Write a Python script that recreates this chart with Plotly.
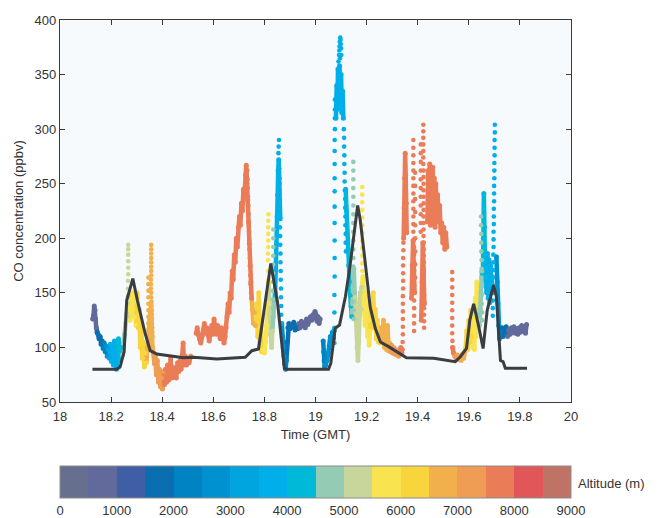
import plotly.graph_objects as go

# ---------------- colour scale (500 m altitude bins) ----------------
alt_bin_edges = [0, 500, 1000, 1500, 2000, 2500, 3000, 3500, 4000, 4500,
                 5000, 5500, 6000, 6500, 7000, 7500, 8000, 8500, 9000]
alt_bin_colors = ["#66708e", "#626a9c", "#3f5ea6", "#0a6eb0", "#0083c3", "#0091d1",
                  "#00a5e0", "#00afe9", "#00b9d9", "#94cbb4", "#c9d69b", "#f9e44f",
                  "#f8d43d", "#f2b04d", "#ef9d55", "#ea7c57", "#e05659", "#bf7364"]
colorbar_ticks = [0, 1000, 2000, 3000, 4000, 5000, 6000, 7000, 8000, 9000]
x_ticks = [18, 18.2, 18.4, 18.6, 18.8, 19, 19.2, 19.4, 19.6, 19.8, 20]
y_ticks = [50, 100, 150, 200, 250, 300, 350, 400]

# ---------------- observed CO along flight track: (time GMT, CO ppbv, altitude m) ----------------
track_leg1 = [
    (18.128, 126, 650), (18.131, 129, 700), (18.134, 138, 720), (18.137, 134, 760), (18.139, 126, 800),
    (18.142, 118, 850), (18.145, 114, 1600), (18.149, 112, 1650), (18.153, 108, 1700), (18.157, 110, 1750),
    (18.161, 103, 1800), (18.165, 106, 1900), (18.169, 99, 2100), (18.173, 104, 2200), (18.177, 96, 2400),
    (18.181, 101, 2600), (18.185, 92, 2800), (18.189, 98, 3100), (18.193, 90, 3300), (18.197, 103, 3600),
    (18.201, 87, 3700), (18.205, 99, 3800), (18.209, 84, 3700), (18.213, 106, 3800), (18.217, 90, 3900),
    (18.221, 80, 3800), (18.225, 95, 3900), (18.229, 108, 4100), (18.233, 96, 4200), (18.237, 88, 4300),
    (18.241, 100, 4400), (18.245, 93, 4600), (18.249, 104, 4700), (18.253, 112, 4800), (18.257, 122, 5100),
    (18.261, 131, 5200), (18.264, 128, 5300),
    (18.270, 140, 5600), (18.274, 125, 5700), (18.278, 148, 5800), (18.282, 135, 5700), (18.286, 150, 5800),
    (18.290, 128, 5900), (18.294, 142, 5900), (18.298, 120, 5950),
    (18.302, 150, 6200), (18.306, 118, 6200), (18.310, 135, 6300), (18.314, 100, 6300), (18.318, 120, 6300),
    (18.322, 90, 6400), (18.326, 105, 6400), (18.330, 82, 6400), (18.334, 95, 6400), (18.338, 86, 6400),
    (18.342, 100, 6600), (18.348, 108, 6700), (18.352, 125, 6700), (18.356, 140, 6800), (18.359, 118, 6800),
    (18.362, 100, 6900),
    (18.366, 95, 7100), (18.370, 85, 7100), (18.373, 92, 7200), (18.377, 75, 7200), (18.381, 88, 7200),
    (18.385, 68, 7300), (18.389, 80, 7300), (18.393, 64, 7300), (18.397, 72, 7400), (18.401, 62, 7400),
    (18.405, 78, 7400),
    (18.409, 66, 7600), (18.413, 80, 7600), (18.417, 68, 7700), (18.421, 84, 7700), (18.425, 70, 7700),
    (18.429, 78, 7700), (18.433, 90, 7700), (18.437, 72, 7700), (18.441, 82, 7700), (18.445, 73, 7700),
    (18.450, 80, 7700), (18.455, 72, 7700), (18.460, 86, 7700), (18.465, 78, 7700), (18.470, 88, 7700),
    (18.474, 80, 7700), (18.478, 92, 7700), (18.482, 104, 7700), (18.485, 84, 7700), (18.490, 92, 7700),
    (18.495, 84, 7700), (18.500, 90, 7700), (18.505, 86, 7700), (18.512, 92, 7700),
]
track_leg2 = [
    (18.533, 113, 7700), (18.537, 118, 7700), (18.541, 112, 7700), (18.546, 108, 7700), (18.551, 104, 7700),
    (18.556, 110, 7700), (18.561, 116, 7700), (18.565, 122, 7700), (18.569, 113, 7700), (18.574, 118, 7700),
    (18.579, 112, 7700), (18.584, 106, 7700), (18.589, 114, 7700), (18.594, 120, 7700), (18.598, 112, 7700),
    (18.603, 126, 7700), (18.607, 118, 7700), (18.612, 112, 7700), (18.617, 120, 7700), (18.622, 115, 7700),
    (18.627, 108, 7700), (18.632, 118, 7700), (18.637, 112, 7700), (18.642, 104, 7700), (18.646, 110, 7700),
    (18.650, 118, 7700), (18.654, 128, 7700), (18.658, 140, 7700), (18.662, 132, 7700), (18.666, 150, 7700),
    (18.670, 145, 7700), (18.674, 170, 7700), (18.678, 162, 7700), (18.682, 185, 7700), (18.686, 178, 7700),
    (18.690, 200, 7700), (18.694, 192, 7700), (18.698, 210, 7700), (18.702, 220, 7700), (18.706, 212, 7700),
    (18.710, 232, 7700), (18.714, 225, 7700), (18.718, 245, 7700), (18.722, 240, 7700), (18.726, 258, 7700),
    (18.729, 267, 7700), (18.732, 250, 7700), (18.735, 235, 7700), (18.738, 215, 7700), (18.741, 195, 7700),
    (18.744, 175, 7700), (18.747, 160, 7700), (18.750, 145, 7600),
    (18.753, 135, 6800), (18.757, 122, 6700), (18.761, 132, 6700), (18.765, 120, 6600),
    (18.770, 140, 6400), (18.774, 110, 6300), (18.778, 150, 6300), (18.782, 100, 6200), (18.786, 125, 6200),
    (18.790, 96, 6100),
    (18.795, 98, 5800), (18.800, 95, 5800), (18.805, 105, 5700), (18.809, 120, 5700), (18.813, 140, 5700),
    (18.816, 160, 5700),
    (18.820, 130, 5300), (18.824, 112, 5200), (18.828, 100, 5200), (18.831, 115, 5100),
    (18.835, 128, 4800), (18.838, 140, 4700), (18.842, 150, 4300),
    (18.845, 170, 3800), (18.848, 195, 3700), (18.850, 220, 3700), (18.852, 240, 3700), (18.854, 262, 3700),
    (18.856, 272, 3700), (18.858, 255, 3700), (18.860, 235, 3700), (18.862, 218, 3700),
]
track_leg3 = [
    (18.868, 122, 2800), (18.871, 110, 2700), (18.874, 100, 2600), (18.877, 92, 2500), (18.880, 85, 2300),
    (18.883, 80, 2200), (18.886, 88, 2100), (18.889, 105, 1900), (18.892, 118, 1800), (18.896, 122, 1800),
    (18.900, 117, 1700), (18.905, 121, 1700), (18.910, 119, 1700), (18.915, 123, 1600), (18.920, 116, 1600),
    (18.925, 120, 1600), (18.930, 117, 1550), (18.935, 122, 950), (18.940, 118, 900), (18.945, 124, 900),
    (18.950, 120, 850), (18.955, 122, 850), (18.960, 118, 850), (18.965, 126, 800), (18.970, 121, 800),
    (18.975, 124, 800), (18.980, 128, 750), (18.985, 125, 750), (18.990, 130, 750), (18.994, 127, 700),
    (18.998, 133, 700), (19.002, 130, 700), (19.006, 124, 700), (19.010, 128, 700), (19.014, 122, 700),
    (19.018, 126, 700),
]
track_leg4 = [
    (19.030, 106, 2200), (19.032, 96, 2300), (19.034, 88, 2400), (19.036, 82, 2400), (19.040, 84, 2500),
    (19.045, 88, 2600), (19.050, 95, 2700), (19.054, 102, 2800), (19.058, 110, 2900), (19.062, 106, 2900),
    (19.066, 114, 2900), (19.070, 108, 2900), (19.073, 116, 3000),
]
track_leg5 = [
    (19.080, 310, 3600), (19.083, 340, 3600), (19.086, 318, 3600), (19.088, 355, 3600), (19.091, 325, 3600),
    (19.094, 358, 3600), (19.097, 330, 3600), (19.100, 350, 3600), (19.103, 315, 3600), (19.106, 335, 3600),
    (19.109, 310, 3600),
]
track_leg6 = [
    (19.118, 245, 4100), (19.121, 225, 4200), (19.124, 205, 4200), (19.127, 190, 4300), (19.130, 175, 4300),
    (19.133, 160, 4400), (19.136, 148, 4400), (19.139, 138, 4400), (19.142, 128, 4400), (19.145, 140, 4600),
    (19.147, 155, 4700), (19.150, 172, 4700), (19.153, 150, 4800),
    (19.157, 140, 5200), (19.160, 120, 5200), (19.163, 100, 5300), (19.166, 88, 5300), (19.169, 105, 5300),
    (19.172, 130, 5400), (19.175, 150, 5400), (19.178, 135, 5400), (19.181, 155, 5450),
    (19.186, 165, 5700), (19.190, 140, 5700), (19.194, 120, 5800), (19.197, 150, 5800), (19.200, 130, 5800),
    (19.204, 110, 5900), (19.207, 125, 5900), (19.210, 102, 5900), (19.213, 115, 5900),
    (19.218, 140, 6200), (19.222, 120, 6200), (19.226, 150, 6300), (19.230, 118, 6300), (19.234, 135, 6300),
    (19.238, 108, 6400), (19.242, 125, 6400), (19.246, 105, 6400), (19.250, 118, 6400), (19.254, 104, 6400),
    (19.258, 118, 6600), (19.262, 105, 6700), (19.266, 125, 6700), (19.270, 100, 6800), (19.274, 115, 6800),
    (19.278, 98, 6800), (19.282, 120, 6900), (19.286, 97, 6900), (19.290, 104, 6900),
    (19.294, 96, 7100), (19.298, 102, 7200), (19.302, 95, 7200), (19.306, 100, 7300), (19.310, 94, 7300),
    (19.314, 98, 7400), (19.318, 93, 7400), (19.322, 97, 7400), (19.326, 92, 7400),
    (19.330, 96, 7600), (19.334, 100, 7700), (19.338, 95, 7700),
]
track_leg7 = [
    (19.345, 200, 7700), (19.347, 228, 7700), (19.349, 255, 7700), (19.351, 278, 7700), (19.353, 258, 7700),
    (19.355, 232, 7700), (19.357, 205, 7700),
]
track_leg8 = [
    (19.376, 145, 7700), (19.379, 175, 7700), (19.382, 198, 7700), (19.385, 170, 7700), (19.388, 150, 7700),
]
track_leg9 = [
    (19.414, 125, 7700), (19.417, 160, 7700), (19.420, 196, 7700), (19.423, 170, 7700), (19.426, 140, 7700),
]
track_leg10 = [
    (19.438, 215, 7700), (19.441, 262, 7700), (19.444, 220, 7700), (19.447, 268, 7700), (19.450, 212, 7700),
    (19.453, 258, 7700), (19.456, 225, 7700), (19.459, 265, 7700), (19.462, 215, 7700), (19.465, 255, 7700),
    (19.468, 210, 7700), (19.471, 250, 7700), (19.474, 222, 7700), (19.478, 240, 7700), (19.482, 215, 7700),
    (19.486, 230, 7700), (19.490, 205, 7700), (19.494, 214, 7700), (19.498, 196, 7700), (19.502, 210, 7700),
    (19.506, 190, 7700), (19.510, 205, 7700), (19.514, 192, 7700),
]
track_leg11 = [
    (19.537, 100, 7700), (19.540, 95, 7600), (19.545, 92, 7400), (19.550, 90, 7200), (19.555, 93, 7100),
    (19.560, 89, 7000), (19.565, 92, 6900), (19.570, 88, 6800), (19.575, 94, 6700), (19.580, 90, 6600),
    (19.585, 96, 6500),
    (19.588, 100, 6400), (19.592, 115, 6300), (19.596, 98, 6300), (19.600, 125, 6200), (19.604, 105, 6200),
    (19.608, 134, 6100), (19.612, 110, 6100),
    (19.616, 100, 5900), (19.619, 130, 5800), (19.622, 98, 5800), (19.625, 145, 5700), (19.628, 110, 5700),
    (19.631, 160, 5600), (19.634, 125, 5600),
    (19.638, 135, 5200), (19.641, 120, 4900), (19.645, 135, 4800), (19.648, 150, 4700), (19.651, 170, 4600),
    (19.655, 165, 4300), (19.657, 200, 4300), (19.659, 241, 4200), (19.661, 210, 4200), (19.663, 180, 4100),
    (19.665, 165, 4100),
    (19.670, 150, 3800), (19.673, 186, 3700), (19.676, 145, 3700), (19.679, 180, 3700), (19.682, 141, 3600),
    (19.685, 175, 3600), (19.688, 150, 3600), (19.691, 165, 3600),
]
track_leg12 = [
    (19.708, 183, 2800), (19.711, 160, 2800), (19.714, 140, 2700), (19.717, 120, 2700), (19.720, 108, 2600),
    (19.723, 115, 2400), (19.726, 110, 2300), (19.730, 118, 1900), (19.734, 110, 1800), (19.738, 116, 1700),
    (19.742, 112, 1700), (19.746, 119, 1600), (19.752, 110, 900), (19.757, 116, 900), (19.762, 112, 850),
    (19.767, 118, 850), (19.772, 114, 800), (19.777, 119, 800), (19.782, 113, 800), (19.787, 117, 750),
    (19.792, 112, 750), (19.797, 118, 750), (19.802, 114, 700), (19.807, 120, 700), (19.812, 115, 700),
    (19.817, 118, 700), (19.822, 113, 700), (19.826, 121, 700),
]

# sparse samples during fast vertical profiles (time, CO, altitude)
profile_samples = [
    (18.266, 140, 5200), (18.266, 147, 5200), (18.266, 154, 5200), (18.266, 161, 5200), (18.267, 167, 5200),
    (18.267, 173, 5200), (18.267, 179, 5200), (18.267, 185, 5200), (18.267, 190, 5200), (18.267, 194, 5200),
    (18.357, 194, 6700), (18.357, 190, 6700), (18.357, 186, 6700), (18.357, 182, 6700), (18.357, 178, 6700),
    (18.357, 174, 6700), (18.357, 170, 6700), (18.357, 166, 6700), (18.356, 162, 6700), (18.356, 158, 6700),
    (18.356, 154, 6700), (18.357, 150, 6700), (18.357, 146, 6700), (18.358, 142, 6700), (18.358, 138, 6700),
    (18.359, 134, 6700), (18.359, 130, 6700), (18.360, 126, 6700), (18.360, 122, 6700), (18.361, 118, 6700),
    (18.361, 114, 6700), (18.362, 110, 6700), (18.346, 164, 6700), (18.346, 158, 6700), (18.346, 152, 6700),
    (18.346, 146, 6700), (18.346, 140, 6700), (18.346, 134, 6700), (18.346, 128, 6700), (18.346, 122, 6700),
    (18.346, 116, 6700), (18.346, 110, 6700),
    (18.733, 262, 7700), (18.734, 254, 7700), (18.735, 246, 7700), (18.736, 238, 7700), (18.737, 230, 7700),
    (18.738, 222, 7700), (18.739, 214, 7700), (18.740, 206, 7700), (18.741, 198, 7700), (18.742, 190, 7700),
    (18.743, 182, 7700), (18.744, 174, 7700), (18.745, 166, 7700), (18.746, 158, 7700), (18.748, 150, 7700),
    (18.814, 180, 5700), (18.814, 186, 5700), (18.815, 192, 5700), (18.815, 198, 5700), (18.815, 204, 5700),
    (18.815, 210, 5700), (18.815, 216, 5700), (18.816, 222, 5700), (18.815, 170, 5700), (18.816, 162, 5700),
    (18.833, 128, 4700), (18.833, 136, 4700), (18.834, 144, 4700), (18.834, 152, 4700), (18.834, 160, 4700),
    (18.834, 168, 4700), (18.834, 176, 4700), (18.835, 184, 4700), (18.835, 192, 4700), (18.835, 200, 4700),
    (18.835, 208, 4700),
    (18.855, 278, 3700), (18.856, 284, 3700), (18.857, 290, 3700), (18.858, 264, 3700), (18.859, 250, 3700),
    (18.858, 244, 3700), (18.860, 228, 3700), (18.861, 210, 3700), (18.862, 202, 3700), (18.862, 194, 3700),
    (18.863, 186, 3700), (18.863, 178, 3700), (18.864, 170, 3700), (18.864, 162, 3700), (18.865, 154, 3700),
    (18.865, 146, 3700), (18.866, 138, 3700), (18.866, 130, 3700), (18.867, 122, 3700),
    (19.076, 327, 3600), (19.076, 318, 3600), (19.076, 310, 3600), (19.076, 300, 3600), (19.075, 290, 3600),
    (19.075, 280, 3600), (19.075, 268, 3600), (19.075, 255, 3600), (19.075, 243, 3600), (19.075, 229, 3600),
    (19.075, 214, 3600), (19.075, 198, 3600), (19.075, 182, 3600), (19.075, 165, 3600), (19.074, 148, 3600),
    (19.074, 132, 3600), (19.074, 118, 3600), (19.074, 104, 3600),
    (19.090, 362, 3600), (19.092, 368, 3600), (19.093, 372, 3600), (19.094, 376, 3600), (19.095, 380, 3600),
    (19.097, 384, 3600), (19.098, 382, 3600), (19.099, 378, 3600), (19.100, 374, 3600), (19.101, 368, 3600),
    (19.096, 365, 3600),
    (19.111, 300, 3600), (19.112, 292, 3600), (19.112, 284, 3600), (19.113, 276, 3600), (19.113, 268, 3600),
    (19.114, 260, 3600), (19.114, 252, 3600), (19.115, 244, 3600), (19.116, 236, 3600), (19.116, 228, 3600),
    (19.117, 220, 3600), (19.117, 212, 3600), (19.118, 204, 3600), (19.118, 196, 3600), (19.119, 188, 3600),
    (19.148, 270, 4700), (19.148, 262, 4700), (19.148, 254, 4700), (19.148, 246, 4700), (19.148, 238, 4700),
    (19.148, 230, 4700), (19.148, 222, 4700), (19.148, 214, 4700), (19.148, 206, 4700), (19.148, 198, 4700),
    (19.148, 190, 4700), (19.148, 182, 4700), (19.148, 174, 4700), (19.148, 166, 4700), (19.149, 158, 4700),
    (19.149, 150, 4700), (19.149, 142, 4700), (19.149, 134, 4700), (19.149, 126, 4700),
    (19.183, 247, 5700), (19.183, 240, 5700), (19.183, 233, 5700), (19.183, 226, 5700), (19.183, 219, 5700),
    (19.183, 212, 5700), (19.183, 205, 5700), (19.183, 198, 5700), (19.183, 191, 5700), (19.183, 184, 5700),
    (19.183, 177, 5700), (19.183, 170, 5700),
    (19.341, 98, 7700), (19.341, 105, 7700), (19.342, 112, 7700), (19.342, 119, 7700), (19.342, 126, 7700),
    (19.342, 133, 7700), (19.342, 140, 7700), (19.342, 147, 7700), (19.343, 154, 7700), (19.343, 161, 7700),
    (19.343, 168, 7700), (19.343, 175, 7700), (19.343, 182, 7700), (19.344, 189, 7700), (19.344, 196, 7700),
    (19.383, 290, 7700), (19.383, 283, 7700), (19.383, 276, 7700), (19.383, 269, 7700), (19.383, 262, 7700),
    (19.383, 255, 7700), (19.383, 248, 7700), (19.383, 241, 7700), (19.383, 234, 7700), (19.383, 227, 7700),
    (19.383, 220, 7700), (19.383, 213, 7700), (19.383, 206, 7700), (19.386, 199, 7700), (19.386, 192, 7700),
    (19.386, 185, 7700), (19.386, 178, 7700), (19.386, 171, 7700), (19.386, 164, 7700), (19.386, 157, 7700),
    (19.386, 150, 7700), (19.386, 143, 7700), (19.386, 136, 7700), (19.386, 129, 7700), (19.386, 122, 7700),
    (19.386, 115, 7700), (19.390, 260, 7700), (19.390, 248, 7700), (19.390, 236, 7700), (19.390, 224, 7700),
    (19.390, 212, 7700), (19.390, 200, 7700), (19.390, 188, 7700), (19.390, 176, 7700), (19.390, 164, 7700),
    (19.422, 304, 7700), (19.422, 298, 7700), (19.422, 292, 7700), (19.422, 286, 7700), (19.422, 280, 7700),
    (19.422, 274, 7700), (19.422, 268, 7700), (19.423, 262, 7700), (19.423, 256, 7700), (19.423, 250, 7700),
    (19.423, 244, 7700), (19.423, 238, 7700), (19.423, 232, 7700), (19.423, 226, 7700), (19.423, 220, 7700),
    (19.423, 214, 7700), (19.423, 208, 7700), (19.423, 202, 7700), (19.424, 196, 7700), (19.424, 190, 7700),
    (19.424, 184, 7700), (19.424, 178, 7700), (19.424, 172, 7700), (19.424, 166, 7700), (19.424, 160, 7700),
    (19.424, 154, 7700), (19.425, 148, 7700), (19.425, 142, 7700), (19.425, 136, 7700), (19.425, 130, 7700),
    (19.425, 124, 7700), (19.425, 118, 7700),
    (19.412, 286, 7700), (19.412, 278, 7700), (19.412, 270, 7700), (19.412, 262, 7700), (19.412, 254, 7700),
    (19.412, 246, 7700), (19.412, 238, 7700), (19.412, 230, 7700), (19.412, 222, 7700), (19.412, 214, 7700),
    (19.412, 206, 7700),
    (19.535, 169, 7700), (19.535, 162, 7700), (19.535, 155, 7700), (19.535, 148, 7700), (19.535, 141, 7700),
    (19.535, 134, 7700), (19.535, 127, 7700), (19.535, 120, 7700), (19.535, 113, 7700), (19.536, 106, 7700),
    (19.536, 100, 7700),
    (19.648, 220, 4700), (19.648, 212, 4700), (19.649, 204, 4700), (19.649, 196, 4700), (19.649, 188, 4700),
    (19.650, 180, 4700), (19.650, 172, 4700), (19.650, 164, 4700), (19.651, 156, 4700), (19.651, 148, 4700),
    (19.651, 140, 4700), (19.652, 132, 4700), (19.652, 125, 4700),
    (19.702, 304, 3600), (19.702, 297, 3600), (19.701, 290, 3600), (19.701, 283, 3600), (19.701, 276, 3600),
    (19.700, 269, 3600), (19.700, 262, 3600), (19.700, 255, 3600), (19.699, 248, 3600), (19.699, 241, 3600),
    (19.699, 234, 3600), (19.698, 227, 3600), (19.698, 220, 3600), (19.698, 213, 3600), (19.697, 206, 3600),
    (19.697, 199, 3600), (19.697, 192, 3600), (19.696, 185, 3600), (19.696, 178, 3600), (19.696, 171, 3600),
    (19.695, 164, 3600), (19.695, 157, 3600), (19.695, 150, 3600), (19.694, 143, 3600), (19.694, 136, 3600),
    (19.694, 129, 3600),
]

# ---------------- model CO (dark line) ----------------
model_time = [18.127, 18.222, 18.235, 18.251, 18.261, 18.285, 18.303, 18.333, 18.353, 18.379,
              18.483, 18.522, 18.614, 18.725, 18.751, 18.777, 18.825, 18.851, 18.878, 18.888,
              19.051, 19.060, 19.077, 19.094, 19.117, 19.133, 19.165, 19.175, 19.195, 19.214,
              19.234, 19.254, 19.286, 19.356, 19.463, 19.502, 19.547, 19.567, 19.591, 19.604,
              19.619, 19.639, 19.656, 19.672, 19.697, 19.708, 19.724, 19.734, 19.743, 19.828]
model_co = [80, 80, 82, 96, 143, 163, 143, 113, 97, 94,
            90.6, 91, 89.4, 91, 97, 98.6, 177, 142, 81, 80,
            80, 85.5, 117.5, 120.5, 146.5, 171, 230, 217, 177, 137,
            117.5, 105, 100.7, 90.6, 90, 88.5, 87, 91.5, 99, 125,
            140, 119, 99, 134, 157, 146.5, 88, 87, 81, 81]

track_legs = [track_leg1, track_leg2, track_leg3, track_leg4, track_leg5, track_leg6,
              track_leg7, track_leg8, track_leg9, track_leg10, track_leg11, track_leg12]


def bin_index(alt):
    for i in range(len(alt_bin_edges) - 1):
        if alt_bin_edges[i] <= alt < alt_bin_edges[i + 1]:
            return i
    return len(alt_bin_colors) - 1


def bin_color(alt):
    return alt_bin_colors[bin_index(alt)]


fig = go.Figure()

# dense track: continuous coloured strokes, one stroke per altitude bin run
track_x, track_y, track_c = [], [], []
for leg in track_legs:
    run = [leg[0]]
    runs = []
    for p in leg[1:]:
        if bin_index(p[2]) == bin_index(run[-1][2]):
            run.append(p)
        else:
            runs.append(run)
            run = [run[-1], p]
    runs.append(run)
    for r in runs:
        col = bin_color(r[-1][2])
        fig.add_trace(go.Scatter(
            x=[p[0] for p in r], y=[p[1] for p in r], mode="lines",
            line=dict(color=col, width=4.5), hoverinfo="skip", showlegend=False))
    for p in leg:
        track_x.append(p[0]); track_y.append(p[1]); track_c.append(bin_color(p[2]))

fig.add_trace(go.Scatter(
    x=track_x, y=track_y, mode="markers",
    marker=dict(color=track_c, size=5, line=dict(width=0)), showlegend=False))

fig.add_trace(go.Scatter(
    x=[p[0] for p in profile_samples], y=[p[1] for p in profile_samples], mode="markers",
    marker=dict(color=[bin_color(p[2]) for p in profile_samples], size=4.6, line=dict(width=0)),
    showlegend=False))

# model line
fig.add_trace(go.Scatter(
    x=model_time, y=model_co, mode="lines",
    line=dict(color="#3a3d41", width=3), showlegend=False))

# colour bar (discrete)
n = len(alt_bin_colors)
colorscale = []
for i, c in enumerate(alt_bin_colors):
    colorscale.append([i / n, c])
    colorscale.append([(i + 1) / n, c])

fig.add_trace(go.Scatter(
    x=[None], y=[None], mode="markers", showlegend=False,
    marker=dict(
        color=[0], cmin=alt_bin_edges[0], cmax=alt_bin_edges[-1], colorscale=colorscale, showscale=True,
        colorbar=dict(
            orientation="h", x=0, xanchor="left", y=-0.1675, yanchor="top",
            thickness=32, len=511, lenmode="pixels", xpad=0, ypad=0,
            outlinecolor="#8c8c8c", outlinewidth=1,
            tickvals=colorbar_ticks, ticks="", ticklen=0,
            tickfont=dict(size=13, color="#333333"),
        ))))

fig.add_annotation(
    text="Altitude (m)", xref="paper", yref="paper",
    x=(576 - 60) / 511, y=(402 - 483) / 382, xanchor="left", yanchor="middle",
    showarrow=False, font=dict(size=13, color="#333333"))

axis_common = dict(
    showline=True, linecolor="#3b3b3b", linewidth=1.2, mirror="ticks",
    ticks="inside", ticklen=5, tickcolor="#3b3b3b", tickwidth=1,
    showgrid=False, zeroline=False, automargin=False,
    tickfont=dict(size=13, color="#333333"),
)

# the page body adds an 8 px offset, so the figure is made 8 px smaller on top/left
fig.update_layout(
    width=653, height=510,
    margin=dict(l=52, r=90, t=12, b=116, autoexpand=False),
    paper_bgcolor="white", plot_bgcolor="#f6fafc",
    font=dict(family="Liberation Sans, Arial, sans-serif", size=13, color="#333333"),
    xaxis=dict(range=[18, 20], tickvals=x_ticks, ticktext=[("%g" % v) for v in x_ticks],
               ticklabelstandoff=2,
               title=dict(text="Time (GMT)", standoff=7, font=dict(size=13)), **axis_common),
    yaxis=dict(range=[50, 400], tickvals=y_ticks,
               title=dict(text="CO concentration (ppbv)", standoff=8, font=dict(size=13)), **axis_common),
)

fig.write_html("out.html")
